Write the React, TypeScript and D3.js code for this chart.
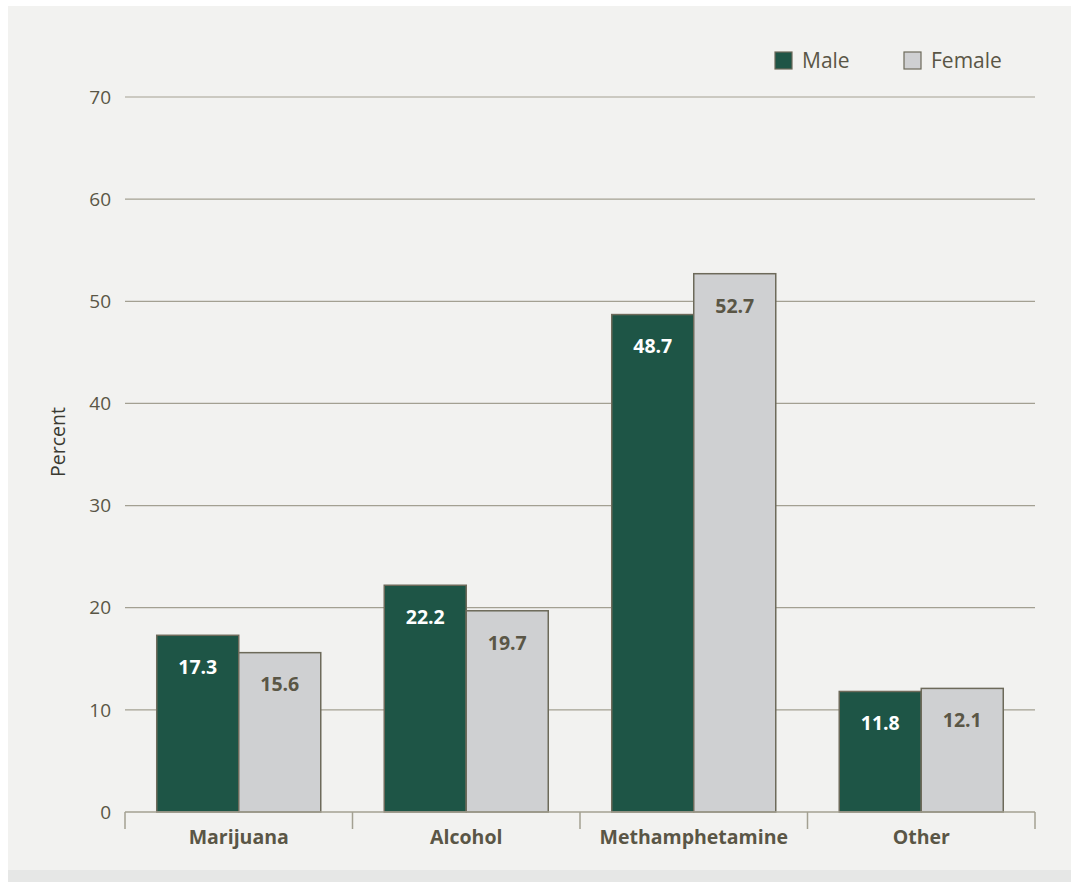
import React from "react";
import * as d3 from "d3";

const categories = ["Marijuana", "Alcohol", "Methamphetamine", "Other"];
const seriesNames = ["Male", "Female"];
const maleValues = [17.3, 22.2, 48.7, 11.8];
const femaleValues = [15.6, 19.7, 52.7, 12.1];
const yTicks = [0, 10, 20, 30, 40, 50, 60, 70];

const W = 1071;
const H = 882;
const FONT = "'Open Sans', 'Noto Sans', sans-serif";
const TEXT = "#5a5646";
const MALE = "#1e5546";
const FEMALE = "#cfd0d2";
const STROKE = "#6d6a5a";

export default function App() {
  const left = 125, right = 1035, top = 97, bottom = 812;
  const x = d3.scaleBand<string>().domain(categories).range([left, right]).paddingInner(0).paddingOuter(0);
  const y = d3.scaleLinear().domain([0, 70]).range([bottom, top]);
  const inner = d3.scaleBand<string>().domain(seriesNames).range([0, x.bandwidth()]).paddingOuter(0.387).paddingInner(0);
  const series = [maleValues, femaleValues];
  const colors = [MALE, FEMALE];
  const labelColors = ["#ffffff", TEXT];

  return (
    <div style={{ position: "absolute", left: 0, top: 0, margin: 0 }}>
      <svg width={W} height={H} style={{ display: "block", fontFamily: FONT }}>
        <rect x={0} y={0} width={W} height={H} fill="#ffffff" />
        <rect x={8} y={6} width={W - 8} height={864} fill="#f2f2f0" />
        <rect x={8} y={870} width={W - 8} height={12} fill="#e6e7e6" />
        {yTicks.map((t) => (
          <g key={t}>
            {t > 0 && (
              <line x1={left} x2={right} y1={y(t)} y2={y(t)} stroke="#a3a092" strokeWidth={1.2} />
            )}
            <text x={111} y={y(t)} dy="0.35em" textAnchor="end" fontSize={19} fill={TEXT}>
              {t}
            </text>
          </g>
        ))}
        <text
          transform={`translate(65, 442) rotate(-90)`}
          textAnchor="middle"
          fontSize={19.5}
          fill="#3a3a32"
        >
          Percent
        </text>
        {categories.map((c, i) =>
          series.map((vals, s) => {
            const bx = (x(c) as number) + (inner(seriesNames[s]) as number);
            const bw = inner.bandwidth();
            const by = y(vals[i]);
            return (
              <g key={c + s}>
                <rect x={bx} y={by} width={bw} height={bottom - by} fill={colors[s]} stroke={STROKE} strokeWidth={1.5} />
                <text
                  x={bx + bw / 2}
                  y={by + 32}
                  dy="0.35em"
                  textAnchor="middle"
                  fontSize={19.5}
                  fontWeight="bold"
                  fill={labelColors[s]}
                >
                  {vals[i].toFixed(1)}
                </text>
              </g>
            );
          })
        )}
        <line x1={left} x2={right} y1={bottom} y2={bottom} stroke="#a3a092" strokeWidth={1.5} />
        {[...categories.map((c) => x(c) as number), right].map((p, i) => (
          <line key={i} x1={p} x2={p} y1={bottom} y2={bottom + 17} stroke="#a3a092" strokeWidth={1.5} />
        ))}
        {categories.map((c) => (
          <text
            key={c}
            x={(x(c) as number) + x.bandwidth() / 2}
            y={837}
            dy="0.35em"
            textAnchor="middle"
            fontSize={19.5}
            fontWeight="bold"
            fill={TEXT}
          >
            {c}
          </text>
        ))}
        {seriesNames.map((n, s) => {
          const lx = s === 0 ? 775 : 904;
          return (
            <g key={n}>
              <rect x={lx} y={52} width={17} height={17} fill={colors[s]} stroke={STROKE} strokeWidth={1.2} />
              <text x={lx + 27} y={61} dy="0.35em" fontSize={21} fill={TEXT}>
                {n}
              </text>
            </g>
          );
        })}
      </svg>
    </div>
  );
}
